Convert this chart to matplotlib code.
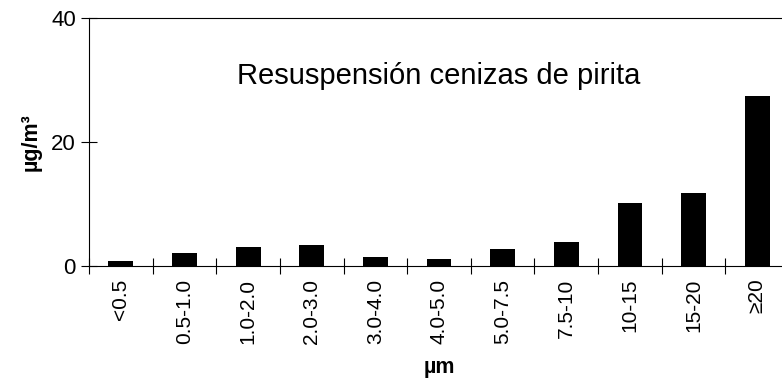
import matplotlib
matplotlib.use('Agg')
import matplotlib.pyplot as plt
import numpy as np

plt.rcParams['font.family'] = ['Liberation Sans', 'DejaVu Sans']

sizes = ['<0.5', '0.5-1.0', '1.0-2.0', '2.0-3.0', '3.0-4.0', '4.0-5.0',
         '5.0-7.5', '7.5-10', '10-15', '15-20', '≥20']
conc = [0.8, 2.1, 3.1, 3.4, 1.5, 1.1, 2.8, 3.8, 10.2, 11.8, 27.4]

fig = plt.figure(figsize=(7.82, 3.87), dpi=100)
ax = fig.add_axes([89 / 782, 1 - 266 / 387, 700 / 782, 248 / 387])

x = np.arange(len(sizes))
ax.bar(x, conc, width=0.39, color='black')

ax.set_xlim(-0.5, len(sizes) - 0.5)
ax.set_ylim(0, 40)
ax.set_yticks([0, 20, 40])
ax.tick_params(axis='y', direction='inout', length=11, width=0.8,
               labelsize=16, pad=4)

# category names under the bars, tick marks on the boundaries
ax.set_xticks(x)
ax.set_xticklabels(sizes, rotation=90, fontsize=15, va='top')
ax.tick_params(axis='x', which='major', length=0, pad=9)
ax.set_xticks(np.arange(len(sizes) + 1) - 0.5, minor=True)
ax.tick_params(axis='x', which='minor', direction='inout', length=11, width=0.8)

for s in ax.spines.values():
    s.set_linewidth(0.8)

ax.text(0.5, 0.765, 'Resuspensión cenizas de pirita', transform=ax.transAxes,
        ha='center', va='center', fontsize=21)
ax.set_ylabel('µg/m³', fontsize=15.5, fontweight='bold')
ax.yaxis.set_label_coords(-0.067, 0.5)
ax.set_xlabel('µm', fontsize=15.5, fontweight='bold')
ax.xaxis.set_label_coords(0.5, -0.365)

plt.savefig('out.png', dpi=100)
plt.close(fig)
